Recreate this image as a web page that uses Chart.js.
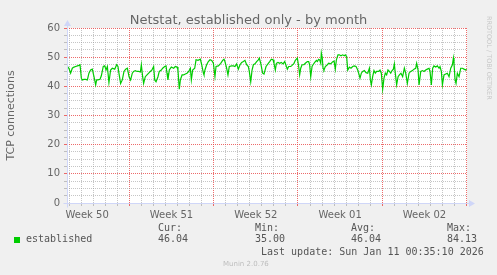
<!DOCTYPE html>
<html><head><meta charset="utf-8">
<script src="https://cdn.jsdelivr.net/npm/chart.js@4.4.0/dist/chart.umd.min.js"></script>
<style>
html,body{margin:0;padding:0;background:#f0f0f0;}
#wrap{position:relative;width:497px;height:275px;overflow:hidden;background:#f0f0f0;}
canvas{position:absolute;left:0;top:0;}
.t{position:absolute;white-space:nowrap;font-family:"DejaVu Sans",sans-serif;color:#666;}
.m{position:absolute;white-space:nowrap;font-family:"DejaVu Sans Mono",monospace;font-size:10px;line-height:12px;color:#555;}
</style></head><body>
<div id="wrap">
<canvas id="c" width="497" height="275"></canvas>
<div class="t" style="left:0;width:497px;text-align:center;top:13px;font-size:13px;line-height:14px;">Netstat, established only - by month</div>
<div id="legend"></div>
<div class="m" style="left:261px;top:246px;">Last update: Sun Jan 11 00:35:10 2026</div>
<div class="t" style="left:223px;top:259px;font-size:7px;line-height:10px;color:#bdbdbd;">Munin 2.0.76</div>
<div class="t" style="left:485px;top:16px;font-size:6.5px;line-height:8px;color:#c8c8c8;writing-mode:vertical-rl;">RRDTOOL / TOBI OETIKER</div>
</div>
<script>
// x values: days since Sunday Dec 14 00:00 (start of week 51 grid)
const days = [
 -5.14,-5.01,-4.87,-4.73,-4.59,-4.45,-4.31,-4.18,-4.09,-3.98,-3.90,-3.76,-3.62,-3.48,-3.35,-3.21,-3.07,-2.93,-2.79,-2.71,-2.60,-2.43,-2.32,-2.16,-2.04,-1.93,-1.82,-1.69,-1.55,-1.41,-1.21,-1.05,-0.94,-0.86,-0.72,-0.58,-0.44,-0.30,-0.16,-0.02,0.11,0.25,
 0.36,0.50,0.64,0.78,0.92,1.00,1.11,1.19,1.33,1.47,1.61,1.75,1.88,2.02,2.11,2.22,2.38,2.49,2.66,2.77,2.94,3.05,3.13,3.21,3.32,3.49,3.68,3.82,3.96,4.04,4.15,4.24,4.38,4.51,4.65,4.79,4.93,5.07,5.15,5.26,5.43,5.54,5.70,5.90,
 6.01,6.15,6.20,6.28,6.42,6.56,6.70,6.84,6.98,7.11,7.20,7.39,7.59,7.75,7.86,7.94,8.08,8.19,8.30,8.50,8.64,8.77,8.91,9.05,9.19,9.33,9.47,9.60,9.74,9.88,9.96,10.08,10.19,10.30,10.43,10.57,10.71,10.79,10.91,11.07,11.18,11.35,11.54,
 11.65,11.79,11.93,12.01,12.12,12.21,12.34,12.48,12.62,12.76,12.90,13.04,13.12,13.23,13.40,13.51,13.67,13.78,13.95,14.06,14.14,14.23,14.34,14.50,14.61,14.78,14.89,14.97,15.06,15.17,15.25,15.39,15.53,15.61,15.72,15.80,15.89,15.94,16.02,16.08,16.16,16.27,16.44,16.55,16.72,16.83,16.91,16.99,17.10,17.19,17.32,
 17.43,17.57,17.71,17.85,17.93,18.04,18.13,18.27,18.40,18.54,18.68,18.82,18.96,19.04,19.15,19.26,19.37,19.51,19.65,19.79,19.93,20.01,20.09,20.20,20.31,20.42,20.53,20.70,20.81,20.92,21.03,21.14,21.25,21.36,21.47,21.59,21.70,21.81,21.92,22.00,22.08,22.19,22.31,22.42,22.55,22.69,22.83,
 22.94,23.08,23.22,23.36,23.50,23.63,23.77,23.85,23.97,24.05,24.19,24.33,24.46,24.60,24.74,24.88,24.96,25.07,25.18,25.29,25.43,25.57,25.71,25.79,25.90,25.99,26.12,26.26,26.40,26.54,26.68,26.82,26.90,26.95,27.04,27.12,27.23,27.37,27.51,27.65,27.78,27.92,28.00
];
const conns = [
 46.8,46.2,44.5,46.2,46.6,46.8,47.0,47.2,47.4,42.8,42.2,42.4,42.4,42.2,44.5,45.6,45.9,43.3,40.5,42.2,42.2,42.4,43.6,46.8,47.0,45.6,46.8,41.3,45.6,46.2,45.9,47.4,46.8,44.5,41.0,42.2,45.1,45.9,46.2,43.3,42.2,44.5,
 45.1,45.4,45.1,45.1,44.9,47.4,43.3,41.0,43.3,43.9,44.5,45.1,45.6,46.8,42.2,41.6,43.3,45.1,45.6,46.2,46.8,47.0,44.5,42.2,45.6,46.6,46.2,46.8,46.6,45.6,39.0,42.2,43.9,43.9,44.2,44.5,45.1,46.2,42.2,45.6,46.2,49.1,48.9,49.3,
 47.4,44.5,43.9,45.6,47.4,48.5,49.1,48.9,47.9,43.3,46.8,47.0,47.9,48.9,49.3,48.5,46.2,43.9,46.8,47.0,47.0,46.8,47.7,45.9,47.4,48.2,48.5,48.9,47.4,46.8,45.1,41.6,45.6,47.4,47.7,48.5,49.1,49.7,47.9,44.5,44.2,46.8,47.9,
 48.5,49.3,49.1,47.9,45.6,47.9,48.2,47.9,48.2,47.7,48.5,46.8,45.9,46.8,46.8,47.2,47.9,48.9,49.7,46.8,43.9,46.2,47.4,47.4,47.9,48.5,48.5,47.4,43.3,46.8,47.4,48.2,48.9,48.5,49.3,49.1,47.9,51.4,49.7,46.2,45.6,46.8,47.4,47.9,47.7,48.2,48.5,48.9,45.9,49.1,50.8,
 50.8,50.5,50.8,50.5,50.8,50.2,45.6,46.6,46.2,46.8,47.0,46.8,45.6,44.5,42.8,44.5,45.1,45.4,44.7,44.5,46.2,42.2,40.5,43.3,45.4,44.5,45.1,45.1,45.6,44.5,39.0,42.8,44.5,43.9,45.6,45.1,44.5,45.4,45.9,47.7,44.5,40.5,43.3,43.9,44.5,43.3,46.2,
 44.5,41.0,44.5,45.1,45.4,45.9,46.2,47.9,45.6,40.5,45.1,45.4,45.1,45.6,45.9,46.2,45.1,40.5,46.2,47.0,46.6,47.0,46.2,46.8,45.1,40.5,43.9,44.2,44.5,43.3,46.2,47.4,49.7,47.9,42.2,41.0,44.5,43.3,46.2,46.2,45.9,45.6,45.9
];
const xMin = -5.17, xMax = 28.03;
const weekLabels = ['Week 50','Week 51','Week 52','Week 01','Week 02'];
const weekCenters = [-3.5, 3.5, 10.5, 17.5, 24.5];
const weekStarts = [0, 7, 14, 21, 28];
const yTickLabels = [0, 10, 20, 30, 40, 50, 60];
const seriesName = 'established';
const statLabels = ['Cur:','Min:','Avg:','Max:'];
const statValues = ['46.04','35.00','46.04','84.13'];

// legend (HTML text)
(function(){
  const lg = document.getElementById('legend');
  const statX = [158, 255, 351, 447];
  let h = '<div style="position:absolute;left:14px;top:237px;width:6px;height:6px;background:#00cc00"></div>';
  h += '<div class="m" style="left:26px;top:233px;">' + seriesName + '</div>';
  statLabels.forEach((s,i)=>{
    h += '<div class="m" style="left:'+statX[i]+'px;top:222px;">'+s+'</div>';
    h += '<div class="m" style="left:'+statX[i]+'px;top:233px;">'+statValues[i]+'</div>';
  });
  lg.innerHTML = h;
})();

const MGRID = 'rgba(232,70,70,0.8)';
const GRID = 'rgba(150,150,150,0.55)';
const AXIS = '#CFD6F8';

const bgPlugin = {id:'bg', beforeDraw(c){
  const {ctx, chartArea:a} = c;
  ctx.save();
  ctx.fillStyle = '#f0f0f0'; ctx.fillRect(0,0,c.width,c.height);
  ctx.fillStyle = '#ffffff'; ctx.fillRect(a.left,a.top,a.right-a.left,a.bottom-a.top);
  ctx.restore();
}};
const axesPlugin = {id:'axes', afterDraw(c){
  const {ctx, chartArea:a} = c;
  const x0 = Math.round(a.left)+0.5, y0 = Math.round(a.bottom)+0.5;
  const x1 = Math.round(a.right), y1 = Math.round(a.top);
  ctx.save();
  ctx.strokeStyle = AXIS; ctx.fillStyle = AXIS; ctx.lineWidth = 1;
  ctx.beginPath();
  ctx.moveTo(x0-4, y0); ctx.lineTo(x1+4, y0);
  ctx.moveTo(x0, y0+4); ctx.lineTo(x0, y1-4);
  ctx.stroke();
  ctx.beginPath();
  ctx.moveTo(x1+2, y0-3.5); ctx.lineTo(x1+2, y0+3.5); ctx.lineTo(x1+8, y0); ctx.closePath(); ctx.fill();
  ctx.beginPath();
  ctx.moveTo(x0-3.5, y1-2); ctx.lineTo(x0+3.5, y1-2); ctx.lineTo(x0, y1-8); ctx.closePath(); ctx.fill();
  ctx.restore();
}};

function setTicks(list){ return (s) => { s.ticks = list.map(v => ({value: v})); }; }
const dayGrid = [];
for (let d = Math.ceil(xMin); d <= Math.floor(xMax); d++) if (!weekStarts.includes(d)) dayGrid.push(d);
const yMinor = [];
for (let k = 0; k <= 24; k++) { const v = k * 2.5; if (!yTickLabels.includes(v)) yMinor.push(v); }

new Chart(document.getElementById('c'), {
  type: 'line',
  data: { datasets: [{
    label: seriesName,
    data: days.map((d,i)=>({x:d, y:conns[i]})),
    borderColor: '#00cc00', borderWidth: 1.2, pointRadius: 0, tension: 0, fill: false
  }]},
  options: {
    responsive: false, animation: false, devicePixelRatio: 1,
    layout: { padding: { top: 28, right: 30, left: 0, bottom: 0 } },
    plugins: { legend: {display:false}, tooltip: {enabled:false}, title: {display:false} },
    scales: {
      xd: {
        type: 'linear', position: 'bottom', weight: 0, min: xMin, max: xMax,
        afterBuildTicks: setTicks(dayGrid), afterFit: (s) => { s.height = 0; },
        ticks: { display: false },
        grid: { color: GRID, tickColor: GRID, tickLength: 3, lineWidth: 1 },
        border: { display: false, dash: [1,1] }
      },
      xw: {
        type: 'linear', position: 'bottom', weight: 0, min: xMin, max: xMax,
        afterBuildTicks: setTicks(weekStarts), afterFit: (s) => { s.height = 0; },
        ticks: { display: false },
        grid: { color: MGRID, tickColor: MGRID, tickLength: 3, lineWidth: 1 },
        border: { display: false, dash: [1,1] }
      },
      x: {
        type: 'linear', position: 'bottom', weight: 1, min: xMin, max: xMax,
        afterBuildTicks: setTicks(weekCenters), afterFit: (s) => { s.height = 72; },
        ticks: {
          autoSkip: false, maxRotation: 0, minRotation: 0, padding: 6, color: '#666',
          font: { family: 'DejaVu Sans', size: 10 },
          callback: (v) => { const i = weekCenters.indexOf(v); return i >= 0 ? weekLabels[i] : ''; }
        },
        grid: { display: false, drawTicks: false, tickLength: 0 },
        border: { display: false }
      },
      y2: {
        type: 'linear', position: 'left', weight: 0, min: 0, max: 60,
        afterBuildTicks: setTicks(yMinor), afterFit: (s) => { s.width = 0; },
        ticks: { display: false },
        grid: { color: GRID, tickColor: GRID, tickLength: 3, lineWidth: 1 },
        border: { display: false, dash: [1,1] }
      },
      y: {
        type: 'linear', position: 'left', weight: 1, min: 0, max: 60,
        afterBuildTicks: setTicks(yTickLabels), afterFit: (s) => { s.width = 67; },
        ticks: {
          autoSkip: false, padding: 4, color: '#666',
          font: { family: 'DejaVu Sans', size: 10 },
          callback: (v) => String(v)
        },
        grid: { color: MGRID, tickColor: MGRID, tickLength: 3, lineWidth: 1 },
        border: { display: false, dash: [1,1] },
        title: { display: true, text: 'TCP connections', color: '#666',
          font: { family: 'DejaVu Sans', size: 11 }, padding: { top: 5, bottom: 0 } }
      }
    }
  },
  plugins: [bgPlugin, axesPlugin]
});
</script>
</body></html>
